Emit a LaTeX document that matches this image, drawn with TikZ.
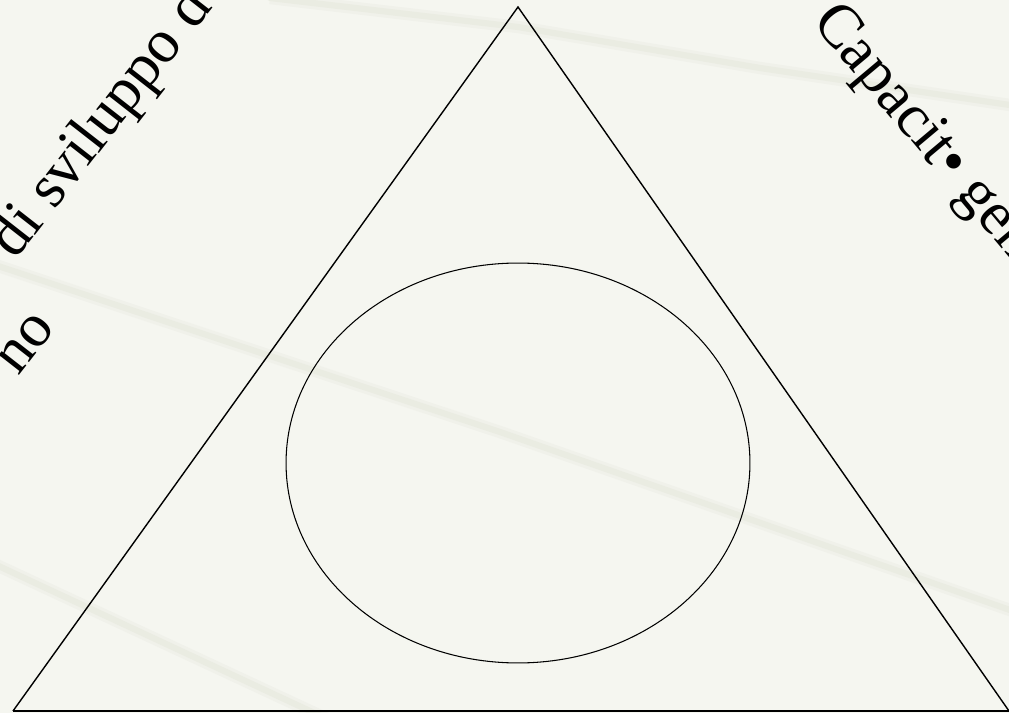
\documentclass[tikz,border=0pt]{standalone}
\usepackage{fontspec}
\setmainfont{Liberation Serif}
\usepackage{tikz}
\usetikzlibrary{shapes.geometric}
\usepackage{xcolor}
\definecolor{slidebg}{RGB}{245,246,240}
\definecolor{streakgray}{RGB}{234,236,226}
\tikzset{
    % Slide background
    streak/.style={line width=3.5pt, streakgray, line cap=round, line join=round,
                preaction={draw, line width=7pt, streakgray!45!slidebg}},
    % Triangle and core
    outline/.style={draw=black, line width=0.8pt, line join=miter},
    basebar/.style={draw=black, line width=1.4pt},
    corebox/.style={ellipse, draw=black, line width=0.6pt, inner sep=0pt,
                minimum width=9.28cm, minimum height=8cm},
    % Rotated slide text
    slidetext/.style={font=\fontsize{35}{42}\selectfont, inner sep=0pt, text=black},
}

\begin{document}
\begin{tikzpicture}[x=0.02cm, y=-0.02cm]
\useasboundingbox (0,0) rectangle (1009,713);
\clip (0,0) rectangle (1009,713);
\fill[slidebg] (0,0) rectangle (1009,713);

\draw[streak] (-20,260) -- (500,432) -- (1030,617);
\draw[streak] (270,-2) -- (518,27) -- (760,68) -- (1030,108);
\draw[streak] (-10,562) -- (340,725);

\coordinate (apex)  at (518,7);
\coordinate (baseL) at (13,711);
\coordinate (baseR) at (1009,711);

\draw[outline] (baseL) -- (apex) -- (baseR);
\draw[basebar] (baseL) -- (baseR);

\node[corebox] (core) at (518,463) {};

\node[slidetext, rotate=52, anchor=base west] (devline) at (15,261) {di sviluppo d};
\node[slidetext, rotate=52, anchor=base east] (devtail) at (57,328) {no};
\node[slidetext, rotate=-50, anchor=base west] (capline) at (811,22) {Capacit• gen};
\end{tikzpicture}
\end{document}
